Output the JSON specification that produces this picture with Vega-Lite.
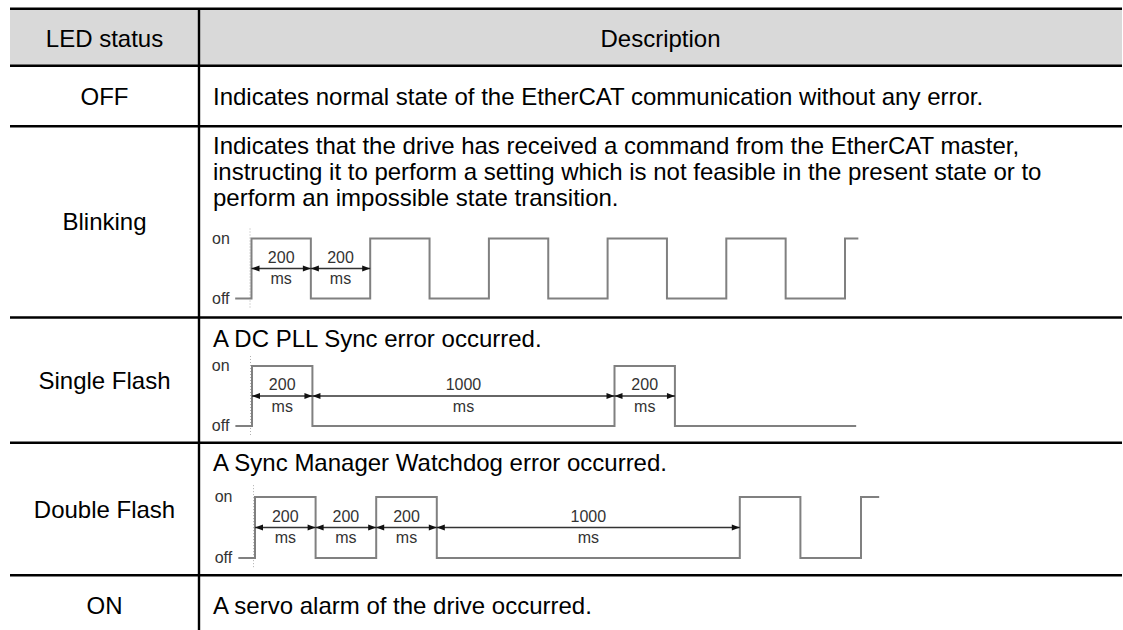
{
  "$schema": "https://vega.github.io/schema/vega-lite/v6.json",
  "width": 1123,
  "height": 630,
  "padding": 0,
  "autosize": {"type": "none"},
  "background": "#ffffff",
  "config": {"view": {"stroke": null}, "font": "Liberation Sans", "text": {"font": "Liberation Sans"}},
  "datasets": {
    "rows": [
      {"idx": 0, "status": "LED status", "desc": "Description"},
      {"idx": 1, "status": "OFF", "desc": "Indicates normal state of the EtherCAT communication without any error."},
      {"idx": 2, "status": "Blinking", "desc": "Indicates that the drive has received a command from the EtherCAT master,\ninstructing it to perform a setting which is not feasible in the present state or to\nperform an impossible state transition."},
      {"idx": 3, "status": "Single Flash", "desc": "A DC PLL Sync error occurred."},
      {"idx": 4, "status": "Double Flash", "desc": "A Sync Manager Watchdog error occurred."},
      {"idx": 5, "status": "ON", "desc": "A servo alarm of the drive occurred."}
    ],
    "levels": [{"level": 1, "label": "on"}, {"level": 0, "label": "off"}],
    "blinkWave": [
      {"t": -55, "level": 0}, {"t": 0, "level": 1}, {"t": 200, "level": 0}, {"t": 400, "level": 1},
      {"t": 600, "level": 0}, {"t": 800, "level": 1}, {"t": 1000, "level": 0}, {"t": 1200, "level": 1},
      {"t": 1400, "level": 0}, {"t": 1600, "level": 1}, {"t": 1800, "level": 0}, {"t": 2000, "level": 1},
      {"t": 2045, "level": 1}
    ],
    "blinkArrows": [
      {"start": 0, "end": 200, "mid": 100, "label": "200", "unit": "ms"},
      {"start": 200, "end": 400, "mid": 300, "label": "200", "unit": "ms"}
    ],
    "singleWave": [
      {"t": -55, "level": 0}, {"t": 0, "level": 1}, {"t": 200, "level": 0},
      {"t": 1200, "level": 1}, {"t": 1400, "level": 0}, {"t": 2000, "level": 0}
    ],
    "singleArrows": [
      {"start": 0, "end": 200, "mid": 100, "label": "200", "unit": "ms"},
      {"start": 200, "end": 1200, "mid": 700, "label": "1000", "unit": "ms"},
      {"start": 1200, "end": 1400, "mid": 1300, "label": "200", "unit": "ms"}
    ],
    "doubleWave": [
      {"t": -55, "level": 0}, {"t": 0, "level": 1}, {"t": 200, "level": 0}, {"t": 400, "level": 1},
      {"t": 600, "level": 0}, {"t": 1600, "level": 1}, {"t": 1800, "level": 0}, {"t": 2000, "level": 1},
      {"t": 2060, "level": 1}
    ],
    "doubleArrows": [
      {"start": 0, "end": 200, "mid": 100, "label": "200", "unit": "ms"},
      {"start": 200, "end": 400, "mid": 300, "label": "200", "unit": "ms"},
      {"start": 400, "end": 600, "mid": 500, "label": "200", "unit": "ms"},
      {"start": 600, "end": 1600, "mid": 1100, "label": "1000", "unit": "ms"}
    ]
  },
  "layer": [
    {
      "data": {"name": "rows"},
      "layer": [
        {
          "transform": [{"filter": "datum.idx == 0"}],
          "mark": {"type": "rect", "color": "#d9d9d9"},
          "encoding": {
            "x": {"datum": 0, "type": "quantitative", "scale": {"domain": [0, 1, 2], "range": [10, 199, 1122], "nice": false, "zero": false}, "axis": null},
            "x2": {"datum": 2},
            "y": {"datum": 0, "type": "quantitative", "scale": {"domain": [0, 1, 2, 3, 4, 5, 6], "range": [8.7, 65.7, 126.2, 317.5, 442.8, 575.2, 631], "nice": false, "zero": false}, "axis": null},
            "y2": {"datum": 1}
          }
        },
        {
          "mark": {"type": "rule", "color": "#000000", "strokeWidth": 2.4},
          "encoding": {
            "x": {"datum": 0, "type": "quantitative", "scale": {"domain": [0, 1, 2], "range": [10, 199, 1122], "nice": false, "zero": false}, "axis": null},
            "x2": {"datum": 2},
            "y": {"field": "idx", "type": "quantitative", "scale": {"domain": [0, 1, 2, 3, 4, 5, 6], "range": [8.7, 65.7, 126.2, 317.5, 442.8, 575.2, 631], "nice": false, "zero": false}, "axis": null}
          }
        },
        {
          "transform": [{"filter": "datum.idx == 0"}],
          "mark": {"type": "rule", "color": "#000000", "strokeWidth": 2.4},
          "encoding": {
            "x": {"datum": 1, "type": "quantitative", "scale": {"domain": [0, 1, 2], "range": [10, 199, 1122], "nice": false, "zero": false}, "axis": null},
            "y": {"datum": 0, "type": "quantitative", "scale": {"domain": [0, 1, 2, 3, 4, 5, 6], "range": [8.7, 65.7, 126.2, 317.5, 442.8, 575.2, 631], "nice": false, "zero": false}, "axis": null},
            "y2": {"datum": 6}
          }
        }
      ]
    },
    {
      "data": {"name": "rows"},
      "mark": {"type": "text", "fontSize": 24, "color": "#000000", "align": "center", "baseline": "alphabetic"},
      "encoding": {
        "x": {"datum": 0.5, "type": "quantitative", "scale": {"domain": [0, 1, 2], "range": [10, 199, 1122], "nice": false, "zero": false}, "axis": null},
        "y": {"field": "idx", "type": "quantitative", "scale": {"domain": [0, 1, 2, 3, 4, 5], "range": [46.5, 105, 230, 389, 518, 614], "nice": false, "zero": false}, "axis": null},
        "text": {"field": "status"}
      }
    },
    {
      "data": {"name": "rows"},
      "layer": [
        {
          "transform": [{"filter": "datum.idx == 0"}],
          "mark": {"type": "text", "fontSize": 24, "color": "#000000", "align": "center", "baseline": "alphabetic"},
          "encoding": {
            "x": {"datum": 1.5, "type": "quantitative", "scale": {"domain": [0, 1, 2], "range": [10, 199, 1122], "nice": false, "zero": false}, "axis": null},
            "y": {"field": "idx", "type": "quantitative", "scale": {"domain": [0, 1, 2, 3, 4, 5], "range": [46.5, 105, 154, 347, 471, 614], "nice": false, "zero": false}, "axis": null},
            "text": {"field": "desc"}
          }
        },
        {
          "transform": [{"filter": "datum.idx > 0"}],
          "mark": {"type": "text", "fontSize": 24, "color": "#000000", "align": "left", "baseline": "alphabetic", "dx": 14, "lineBreak": "\n", "lineHeight": 26},
          "encoding": {
            "x": {"datum": 1, "type": "quantitative", "scale": {"domain": [0, 1, 2], "range": [10, 199, 1122], "nice": false, "zero": false}, "axis": null},
            "y": {"field": "idx", "type": "quantitative", "scale": {"domain": [0, 1, 2, 3, 4, 5], "range": [46.5, 105, 154, 347, 471, 614], "nice": false, "zero": false}, "axis": null},
            "text": {"field": "desc"}
          }
        }
      ]
    },
    {
      "layer": [
        {
          "data": {"name": "blinkWave"},
          "transform": [{"filter": "datum.t == 0"}],
          "mark": {"type": "rule", "color": "#b0b0b0", "strokeWidth": 1, "strokeDash": [1, 2], "xOffset": -1.5},
          "encoding": {
            "x": {"field": "t", "type": "quantitative", "scale": {"domain": [0, 2000], "range": [251.5, 845], "nice": false, "zero": false}, "axis": null},
            "y": {"datum": -0.15, "type": "quantitative", "scale": {"domain": [0, 1], "range": [298.5, 238.5], "nice": false, "zero": false}, "axis": null},
            "y2": {"datum": 1.2}
          }
        },
        {
          "data": {"name": "levels"},
          "mark": {"type": "text", "fontSize": 16, "color": "#333333", "align": "left", "baseline": "middle"},
          "encoding": {
            "x": {"datum": -133, "type": "quantitative", "scale": {"domain": [0, 2000], "range": [251.5, 845], "nice": false, "zero": false}, "axis": null},
            "y": {"field": "level", "type": "quantitative", "scale": {"domain": [0, 1], "range": [298.5, 238.5], "nice": false, "zero": false}, "axis": null},
            "text": {"field": "label"}
          }
        },
        {
          "data": {"name": "blinkWave"},
          "mark": {"type": "line", "interpolate": "step-after", "color": "#808080", "strokeWidth": 2},
          "encoding": {
            "x": {"field": "t", "type": "quantitative", "scale": {"domain": [0, 2000], "range": [251.5, 845], "nice": false, "zero": false}, "axis": null},
            "y": {"field": "level", "type": "quantitative", "scale": {"domain": [0, 1], "range": [298.5, 238.5], "nice": false, "zero": false}, "axis": null}
          }
        },
        {
          "data": {"name": "blinkArrows"},
          "layer": [
            {
              "mark": {"type": "rule", "color": "#333333", "strokeWidth": 1.3},
              "encoding": {
                "x": {"field": "start", "type": "quantitative", "scale": {"domain": [0, 2000], "range": [251.5, 845], "nice": false, "zero": false}, "axis": null},
                "x2": {"field": "end"},
                "y": {"datum": 0.5, "type": "quantitative", "scale": {"domain": [0, 1], "range": [298.5, 238.5], "nice": false, "zero": false}, "axis": null}
              }
            },
            {
              "mark": {"type": "point", "shape": "M0,0L1.6,-0.6L1.6,0.6Z", "filled": true, "color": "#111111", "opacity": 1, "size": 100},
              "encoding": {
                "x": {"field": "start", "type": "quantitative", "scale": {"domain": [0, 2000], "range": [251.5, 845], "nice": false, "zero": false}, "axis": null},
                "y": {"datum": 0.5, "type": "quantitative", "scale": {"domain": [0, 1], "range": [298.5, 238.5], "nice": false, "zero": false}, "axis": null}
              }
            },
            {
              "mark": {"type": "point", "shape": "M0,0L-1.6,-0.6L-1.6,0.6Z", "filled": true, "color": "#111111", "opacity": 1, "size": 100},
              "encoding": {
                "x": {"field": "end", "type": "quantitative", "scale": {"domain": [0, 2000], "range": [251.5, 845], "nice": false, "zero": false}, "axis": null},
                "y": {"datum": 0.5, "type": "quantitative", "scale": {"domain": [0, 1], "range": [298.5, 238.5], "nice": false, "zero": false}, "axis": null}
              }
            },
            {
              "mark": {"type": "text", "fontSize": 16, "color": "#333333", "align": "center", "baseline": "middle"},
              "encoding": {
                "x": {"field": "mid", "type": "quantitative", "scale": {"domain": [0, 2000], "range": [251.5, 845], "nice": false, "zero": false}, "axis": null},
                "y": {"datum": 0.68, "type": "quantitative", "scale": {"domain": [0, 1], "range": [298.5, 238.5], "nice": false, "zero": false}, "axis": null},
                "text": {"field": "label"}
              }
            },
            {
              "mark": {"type": "text", "fontSize": 16, "color": "#333333", "align": "center", "baseline": "middle"},
              "encoding": {
                "x": {"field": "mid", "type": "quantitative", "scale": {"domain": [0, 2000], "range": [251.5, 845], "nice": false, "zero": false}, "axis": null},
                "y": {"datum": 0.32, "type": "quantitative", "scale": {"domain": [0, 1], "range": [298.5, 238.5], "nice": false, "zero": false}, "axis": null},
                "text": {"field": "unit"}
              }
            }
          ]
        }
      ]
    },
    {
      "layer": [
        {
          "data": {"name": "singleWave"},
          "transform": [{"filter": "datum.t == 0"}],
          "mark": {"type": "rule", "color": "#b0b0b0", "strokeWidth": 1, "strokeDash": [1, 2], "xOffset": -1.5},
          "encoding": {
            "x": {"field": "t", "type": "quantitative", "scale": {"domain": [0, 1200], "range": [252, 614.5], "nice": false, "zero": false}, "axis": null},
            "y": {"datum": -0.15, "type": "quantitative", "scale": {"domain": [0, 1], "range": [426, 366], "nice": false, "zero": false}, "axis": null},
            "y2": {"datum": 1.2}
          }
        },
        {
          "data": {"name": "levels"},
          "mark": {"type": "text", "fontSize": 16, "color": "#333333", "align": "left", "baseline": "middle"},
          "encoding": {
            "x": {"datum": -133, "type": "quantitative", "scale": {"domain": [0, 1200], "range": [252, 614.5], "nice": false, "zero": false}, "axis": null},
            "y": {"field": "level", "type": "quantitative", "scale": {"domain": [0, 1], "range": [426, 366], "nice": false, "zero": false}, "axis": null},
            "text": {"field": "label"}
          }
        },
        {
          "data": {"name": "singleWave"},
          "mark": {"type": "line", "interpolate": "step-after", "color": "#808080", "strokeWidth": 2},
          "encoding": {
            "x": {"field": "t", "type": "quantitative", "scale": {"domain": [0, 1200], "range": [252, 614.5], "nice": false, "zero": false}, "axis": null},
            "y": {"field": "level", "type": "quantitative", "scale": {"domain": [0, 1], "range": [426, 366], "nice": false, "zero": false}, "axis": null}
          }
        },
        {
          "data": {"name": "singleArrows"},
          "layer": [
            {
              "mark": {"type": "rule", "color": "#333333", "strokeWidth": 1.3},
              "encoding": {
                "x": {"field": "start", "type": "quantitative", "scale": {"domain": [0, 1200], "range": [252, 614.5], "nice": false, "zero": false}, "axis": null},
                "x2": {"field": "end"},
                "y": {"datum": 0.5, "type": "quantitative", "scale": {"domain": [0, 1], "range": [426, 366], "nice": false, "zero": false}, "axis": null}
              }
            },
            {
              "mark": {"type": "point", "shape": "M0,0L1.6,-0.6L1.6,0.6Z", "filled": true, "color": "#111111", "opacity": 1, "size": 100},
              "encoding": {
                "x": {"field": "start", "type": "quantitative", "scale": {"domain": [0, 1200], "range": [252, 614.5], "nice": false, "zero": false}, "axis": null},
                "y": {"datum": 0.5, "type": "quantitative", "scale": {"domain": [0, 1], "range": [426, 366], "nice": false, "zero": false}, "axis": null}
              }
            },
            {
              "mark": {"type": "point", "shape": "M0,0L-1.6,-0.6L-1.6,0.6Z", "filled": true, "color": "#111111", "opacity": 1, "size": 100},
              "encoding": {
                "x": {"field": "end", "type": "quantitative", "scale": {"domain": [0, 1200], "range": [252, 614.5], "nice": false, "zero": false}, "axis": null},
                "y": {"datum": 0.5, "type": "quantitative", "scale": {"domain": [0, 1], "range": [426, 366], "nice": false, "zero": false}, "axis": null}
              }
            },
            {
              "mark": {"type": "text", "fontSize": 16, "color": "#333333", "align": "center", "baseline": "middle"},
              "encoding": {
                "x": {"field": "mid", "type": "quantitative", "scale": {"domain": [0, 1200], "range": [252, 614.5], "nice": false, "zero": false}, "axis": null},
                "y": {"datum": 0.68, "type": "quantitative", "scale": {"domain": [0, 1], "range": [426, 366], "nice": false, "zero": false}, "axis": null},
                "text": {"field": "label"}
              }
            },
            {
              "mark": {"type": "text", "fontSize": 16, "color": "#333333", "align": "center", "baseline": "middle"},
              "encoding": {
                "x": {"field": "mid", "type": "quantitative", "scale": {"domain": [0, 1200], "range": [252, 614.5], "nice": false, "zero": false}, "axis": null},
                "y": {"datum": 0.32, "type": "quantitative", "scale": {"domain": [0, 1], "range": [426, 366], "nice": false, "zero": false}, "axis": null},
                "text": {"field": "unit"}
              }
            }
          ]
        }
      ]
    },
    {
      "layer": [
        {
          "data": {"name": "doubleWave"},
          "transform": [{"filter": "datum.t == 0"}],
          "mark": {"type": "rule", "color": "#b0b0b0", "strokeWidth": 1, "strokeDash": [1, 2], "xOffset": -1.5},
          "encoding": {
            "x": {"field": "t", "type": "quantitative", "scale": {"domain": [0, 2000], "range": [255, 861], "nice": false, "zero": false}, "axis": null},
            "y": {"datum": -0.15, "type": "quantitative", "scale": {"domain": [0, 1], "range": [558, 497], "nice": false, "zero": false}, "axis": null},
            "y2": {"datum": 1.2}
          }
        },
        {
          "data": {"name": "levels"},
          "mark": {"type": "text", "fontSize": 16, "color": "#333333", "align": "left", "baseline": "middle"},
          "encoding": {
            "x": {"datum": -133, "type": "quantitative", "scale": {"domain": [0, 2000], "range": [255, 861], "nice": false, "zero": false}, "axis": null},
            "y": {"field": "level", "type": "quantitative", "scale": {"domain": [0, 1], "range": [558, 497], "nice": false, "zero": false}, "axis": null},
            "text": {"field": "label"}
          }
        },
        {
          "data": {"name": "doubleWave"},
          "mark": {"type": "line", "interpolate": "step-after", "color": "#808080", "strokeWidth": 2},
          "encoding": {
            "x": {"field": "t", "type": "quantitative", "scale": {"domain": [0, 2000], "range": [255, 861], "nice": false, "zero": false}, "axis": null},
            "y": {"field": "level", "type": "quantitative", "scale": {"domain": [0, 1], "range": [558, 497], "nice": false, "zero": false}, "axis": null}
          }
        },
        {
          "data": {"name": "doubleArrows"},
          "layer": [
            {
              "mark": {"type": "rule", "color": "#333333", "strokeWidth": 1.3},
              "encoding": {
                "x": {"field": "start", "type": "quantitative", "scale": {"domain": [0, 2000], "range": [255, 861], "nice": false, "zero": false}, "axis": null},
                "x2": {"field": "end"},
                "y": {"datum": 0.5, "type": "quantitative", "scale": {"domain": [0, 1], "range": [558, 497], "nice": false, "zero": false}, "axis": null}
              }
            },
            {
              "mark": {"type": "point", "shape": "M0,0L1.6,-0.6L1.6,0.6Z", "filled": true, "color": "#111111", "opacity": 1, "size": 100},
              "encoding": {
                "x": {"field": "start", "type": "quantitative", "scale": {"domain": [0, 2000], "range": [255, 861], "nice": false, "zero": false}, "axis": null},
                "y": {"datum": 0.5, "type": "quantitative", "scale": {"domain": [0, 1], "range": [558, 497], "nice": false, "zero": false}, "axis": null}
              }
            },
            {
              "mark": {"type": "point", "shape": "M0,0L-1.6,-0.6L-1.6,0.6Z", "filled": true, "color": "#111111", "opacity": 1, "size": 100},
              "encoding": {
                "x": {"field": "end", "type": "quantitative", "scale": {"domain": [0, 2000], "range": [255, 861], "nice": false, "zero": false}, "axis": null},
                "y": {"datum": 0.5, "type": "quantitative", "scale": {"domain": [0, 1], "range": [558, 497], "nice": false, "zero": false}, "axis": null}
              }
            },
            {
              "mark": {"type": "text", "fontSize": 16, "color": "#333333", "align": "center", "baseline": "middle"},
              "encoding": {
                "x": {"field": "mid", "type": "quantitative", "scale": {"domain": [0, 2000], "range": [255, 861], "nice": false, "zero": false}, "axis": null},
                "y": {"datum": 0.68, "type": "quantitative", "scale": {"domain": [0, 1], "range": [558, 497], "nice": false, "zero": false}, "axis": null},
                "text": {"field": "label"}
              }
            },
            {
              "mark": {"type": "text", "fontSize": 16, "color": "#333333", "align": "center", "baseline": "middle"},
              "encoding": {
                "x": {"field": "mid", "type": "quantitative", "scale": {"domain": [0, 2000], "range": [255, 861], "nice": false, "zero": false}, "axis": null},
                "y": {"datum": 0.32, "type": "quantitative", "scale": {"domain": [0, 1], "range": [558, 497], "nice": false, "zero": false}, "axis": null},
                "text": {"field": "unit"}
              }
            }
          ]
        }
      ]
    }
  ],
  "resolve": {"scale": {"x": "independent", "y": "independent"}}
}
